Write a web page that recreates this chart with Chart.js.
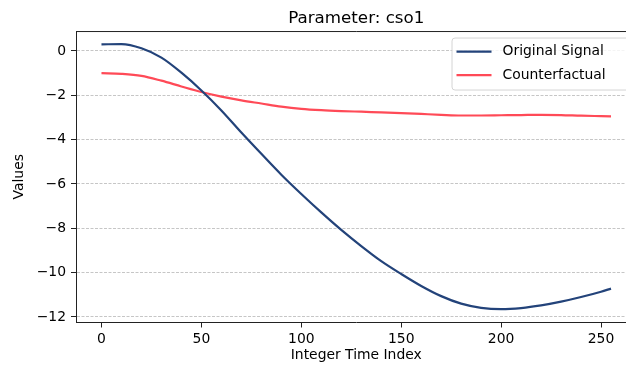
<!DOCTYPE html>
<html lang="en">
  <head>
    <meta charset="UTF-8" />
    <title>Parameter: cso1</title>
    <script src="https://cdn.jsdelivr.net/npm/chart.js"></script>
    <style>
      html, body { margin: 0; padding: 0; background: #fff; }
      #wrap { width: 626px; height: 367px; overflow: hidden; }
      canvas { display: block; }
    </style>
  </head>
  <body>
    <div id="wrap"><canvas id="myChart" width="640" height="367"></canvas></div>
    <script>
      // values
      const timeIndex = [0, 10, 20, 30, 40, 50, 60, 70, 80, 90, 100, 110, 120, 130,
        140, 150, 160, 170, 180, 190, 200, 210, 220, 230, 240, 250, 255];
      const originalSignal = [0.30, 0.31, 0.12, -0.30, -0.98, -1.78, -2.68, -3.68, -4.64,
        -5.58, -6.45, -7.28, -8.07, -8.80, -9.48, -10.06, -10.60, -11.06, -11.40, -11.59,
        -11.65, -11.60, -11.48, -11.31, -11.10, -10.86, -10.72];
      const counterfactual = [-1.00, -1.03, -1.12, -1.34, -1.60, -1.85, -2.06, -2.23, -2.37,
        -2.51, -2.61, -2.67, -2.71, -2.74, -2.77, -2.80, -2.84, -2.88, -2.91, -2.91,
        -2.90, -2.89, -2.88, -2.89, -2.92, -2.94, -2.95];
      const xTicks = [0, 50, 100, 150, 200, 250];
      const yTicks = [-12, -10, -8, -6, -4, -2, 0];

      const FONT = "'DejaVu Sans', sans-serif";
      const fs = 13.9;

      const toPoints = (ys) => ys.map((y, i) => ({ x: timeIndex[i], y: y }));

      // top/right spines + matplotlib style legend
      const framePlugin = {
        id: "frame",
        afterDraw(chart) {
          const { ctx, chartArea: a } = chart;
          ctx.save();
          ctx.strokeStyle = "#222";
          ctx.lineWidth = 1;
          ctx.beginPath();
          ctx.moveTo(a.left, a.top + 0.5);
          ctx.lineTo(a.right, a.top + 0.5);
          ctx.lineTo(a.right, a.bottom);
          ctx.stroke();

          // legend box
          const left = a.right - 185, top = a.top + 6.5, w = 190, h = 52, r = 3;
          ctx.beginPath();
          ctx.roundRect(left + 0.5, top + 0.5, w, h, r);
          ctx.fillStyle = "rgba(255,255,255,0.8)";
          ctx.fill();
          ctx.strokeStyle = "#d4d4d4";
          ctx.stroke();

          ctx.font = fs + "px " + FONT;
          ctx.textBaseline = "middle";
          ctx.textAlign = "left";
          chart.data.datasets.forEach((ds, i) => {
            const yy = top + 14 + i * 23.5;
            ctx.strokeStyle = ds.borderColor;
            ctx.lineWidth = ds.borderWidth;
            ctx.beginPath();
            ctx.moveTo(left + 5, yy);
            ctx.lineTo(left + 40, yy);
            ctx.stroke();
            ctx.fillStyle = "#000";
            ctx.fillText(ds.label, left + 51, yy);
          });
          ctx.restore();
        }
      };

      const minus = (v) => String(v).replace("-", "\u2212");

      const ctx = document.getElementById("myChart").getContext("2d");
      const myChart = new Chart(ctx, {
        type: "line",
        data: {
          datasets: [
            {
              label: "Original Signal",
              data: toPoints(originalSignal),
              borderColor: "#23437a",
              borderWidth: 2.2,
              pointRadius: 0,
              cubicInterpolationMode: "monotone",
              fill: false,
            },
            {
              label: "Counterfactual",
              data: toPoints(counterfactual),
              borderColor: "#ff4a57",
              borderWidth: 2.2,
              pointRadius: 0,
              cubicInterpolationMode: "monotone",
              fill: false,
            },
          ],
        },
        options: {
          responsive: false,
          animation: false,
          devicePixelRatio: 1,
          layout: { padding: { left: 0, right: 3.5, top: 3, bottom: 0 } },
          plugins: {
            legend: { display: false },
            tooltip: { enabled: false },
            title: {
              display: true,
              text: "Parameter: cso1",
              fullSize: false,
              color: "#000",
              font: { family: FONT, size: 16.7, weight: "normal" },
              padding: { top: 6, bottom: 2 },
            },
          },
          scales: {
            x: {
              type: "linear",
              min: -12.75,
              max: 267.75,
              afterBuildTicks: (scale) => { scale.ticks = xTicks.map((v) => ({ value: v })); },
              afterFit: (scale) => { scale.height = 44.5; },
              grid: { drawOnChartArea: false, drawTicks: true, tickLength: 5, tickColor: "#222", tickWidth: 1 },
              border: { display: true, color: "#222", width: 1 },
              ticks: {
                color: "#000",
                font: { family: FONT, size: fs },
                padding: 4,
                maxRotation: 0,
                callback: (v) => minus(v),
              },
              title: {
                display: true,
                text: "Integer Time Index",
                color: "#000",
                font: { family: FONT, size: fs },
                padding: { top: 0, bottom: 3 },
              },
            },
            y: {
              type: "linear",
              min: -12.25,
              max: 0.9,
              afterBuildTicks: (scale) => { scale.ticks = yTicks.map((v) => ({ value: v })); },
              afterFit: (scale) => { scale.width = 76; },
              grid: { color: "#c6c6c6", lineWidth: 1, tickLength: 5, tickColor: "#222", tickWidth: 1 },
              border: { display: true, color: "#222", width: 1, dash: [3, 1.5] },
              ticks: {
                color: "#000",
                font: { family: FONT, size: fs },
                padding: 5,
                callback: (v) => minus(v),
              },
              title: {
                display: true,
                text: "Values",
                color: "#000",
                font: { family: FONT, size: fs },
                padding: { top: 11, bottom: 0 },
              },
            },
          },
        },
        plugins: [framePlugin],
      });
    </script>
  </body>
</html>
